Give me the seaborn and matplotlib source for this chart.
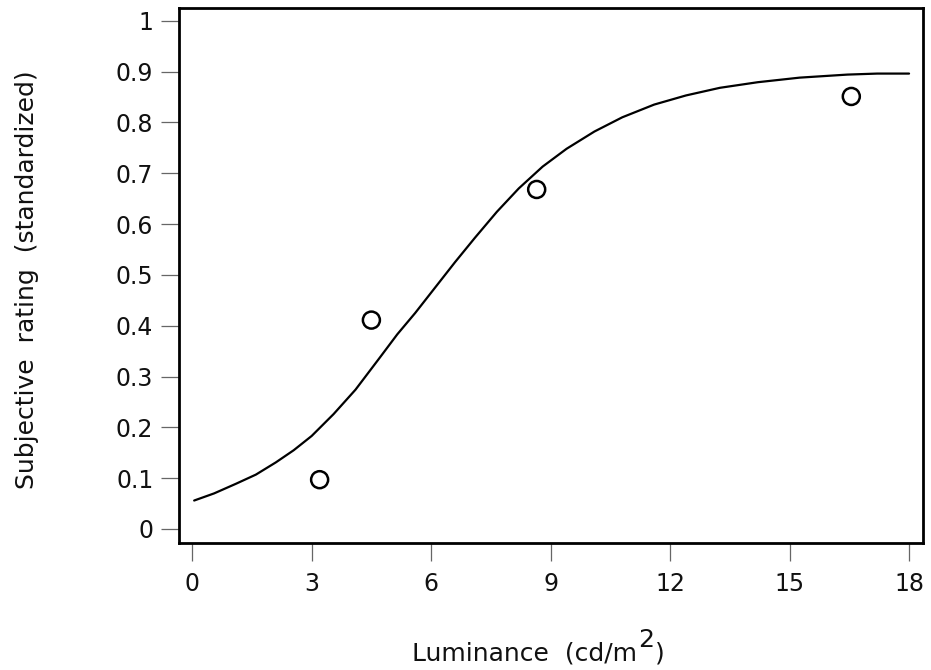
import matplotlib
matplotlib.use("Agg")
import matplotlib.pyplot as plt
import seaborn as sns
import pandas as pd

# fitted curve
curve_x = [0.05, 0.55, 1.1, 1.6, 2.1, 2.55, 3.0, 3.55, 4.1, 4.7, 5.15, 5.6, 6.1,
           6.6, 7.1, 7.65, 8.2, 8.8, 9.4, 10.1, 10.8, 11.6, 12.4, 13.25, 14.2,
           15.25, 16.45, 17.2, 18.0]
curve_y = [0.056, 0.070, 0.089, 0.107, 0.131, 0.155, 0.183, 0.226, 0.274, 0.336,
           0.383, 0.425, 0.475, 0.525, 0.573, 0.624, 0.670, 0.713, 0.748, 0.782,
           0.810, 0.835, 0.853, 0.868, 0.879, 0.888, 0.894, 0.896, 0.896]

# observed ratings
obs_x = [3.2, 4.5, 8.65, 16.55]
obs_y = [0.097, 0.411, 0.668, 0.851]

x_ticks = [0, 3, 6, 9, 12, 15, 18]
y_ticks = [0, 0.1, 0.2, 0.3, 0.4, 0.5, 0.6, 0.7, 0.8, 0.9, 1]
y_tick_labels = ["0", "0.1", "0.2", "0.3", "0.4", "0.5", "0.6", "0.7", "0.8", "0.9", "1"]

sns.set_style("white")
plt.rcParams["font.family"] = ["DejaVu Sans"]

fig = plt.figure(figsize=(9.31, 6.70), dpi=100)
ax = fig.add_axes([0.1923, 0.1896, 0.7991, 0.7992])

curve = pd.DataFrame({"lum": curve_x, "rating": curve_y})
obs = pd.DataFrame({"lum": obs_x, "rating": obs_y})

sns.lineplot(data=curve, x="lum", y="rating", ax=ax, color="black", lw=1.6)
sns.scatterplot(data=obs, x="lum", y="rating", ax=ax, marker="o", s=150,
                facecolor="none", edgecolor="black", linewidth=1.8)

ax.set_xlim(-0.33, 18.35)
ax.set_ylim(-0.0275, 1.026)
ax.set_xticks(x_ticks)
ax.set_xticklabels([str(t) for t in x_ticks])
ax.set_yticks(y_ticks)
ax.set_yticklabels(y_tick_labels)

for s in ax.spines.values():
    s.set_visible(True)
    s.set_color("black")
    s.set_linewidth(2)

ax.tick_params(axis="both", which="major", direction="out", length=13, width=0.9,
               color="#666666", labelsize=17, pad=5.5, labelcolor="#111111")
ax.tick_params(axis="x", bottom=True, pad=8)
ax.tick_params(axis="y", left=True)

ax.set_xlabel("")
ax.set_ylabel("")

# x label: "Luminance  (cd/m" + full-size raised "2" + ")"
lab_size = 18
base_y = 1 - 660 / 670
t1 = fig.text(412 / 931, base_y, "Luminance  (cd/m", ha="left", va="baseline",
              fontsize=lab_size, color="#111111")
fig.canvas.draw()
r = fig.canvas.get_renderer()
bb = t1.get_window_extent(r)
t2 = fig.text(bb.x1 / fig.bbox.width + 1 / 931, base_y + 13 / 670, "2", ha="left",
              va="baseline", fontsize=lab_size, color="#111111")
bb2 = t2.get_window_extent(r)
fig.text(bb2.x1 / fig.bbox.width + 1 / 931, base_y, ")", ha="left", va="baseline",
         fontsize=lab_size, color="#111111")

fig.text(27 / 931, 1 - 280 / 670, "Subjective  rating  (standardized)", ha="center",
         va="center", rotation=90, fontsize=lab_size, color="#111111")

fig.savefig("out.png", dpi=100)
